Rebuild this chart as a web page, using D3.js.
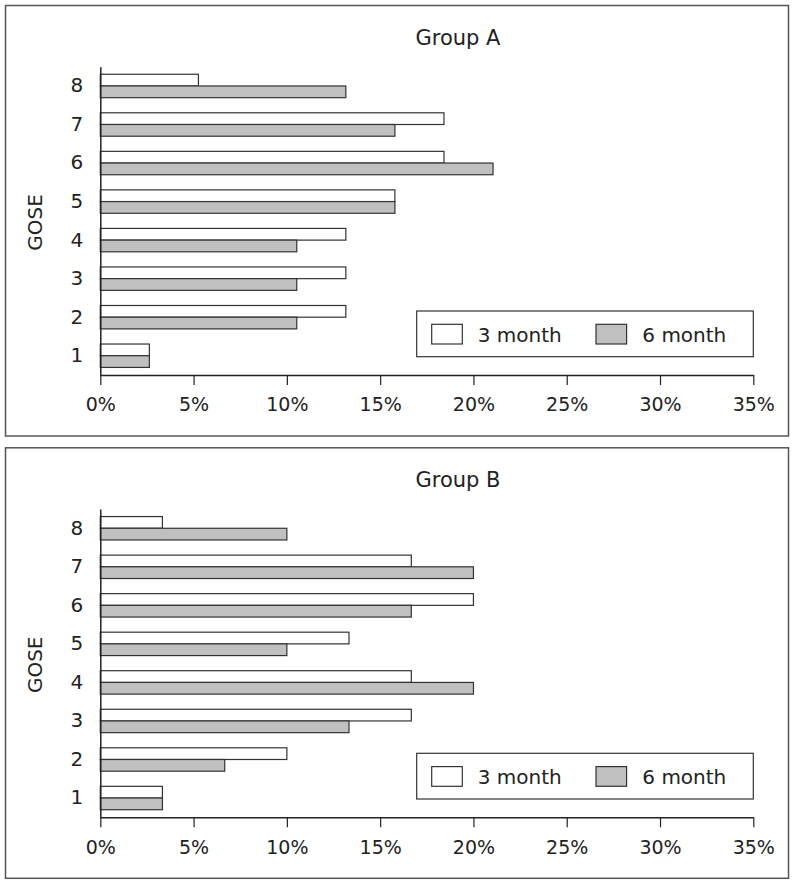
<!DOCTYPE html>
<html><head><meta charset="utf-8">
<script src="https://cdn.jsdelivr.net/npm/d3@7"></script>
<style>body{margin:0;background:#fff}svg{display:block}text{font-family:"DejaVu Sans",sans-serif;fill:#222}</style>
</head><body>
<svg id="c" width="795" height="885"></svg>
<script>
const categories = ["1","2","3","4","5","6","7","8"];
const series = ["3 month","6 month"];
const groups = ["Group A","Group B"];
const groupA3 = [2.63,13.16,13.16,13.16,15.79,18.42,18.42,5.26];
const groupA6 = [2.63,10.53,10.53,10.53,15.79,21.05,15.79,13.16];
const groupB3 = [3.33,10.00,16.67,16.67,13.33,20.00,16.67,3.33];
const groupB6 = [3.33,6.67,13.33,20.00,10.00,16.67,20.00,10.00];
const xTicks = [0,5,10,15,20,25,30,35];
const colors = ["#ffffff","#c0c0c0"];

const svg = d3.select("#c");
const data = [[groupA3,groupA6],[groupB3,groupB6]];

data.forEach((vals,gi)=>{
  const oy = gi*442.3;
  const g = svg.append("g").attr("transform",`translate(0,${oy})`);
  g.append("rect").attr("x",5.5).attr("y",5.5).attr("width",783).attr("height",430.5)
    .attr("fill","none").attr("stroke","#555").attr("stroke-width",1.5);
  const x = d3.scaleLinear().domain([0,35]).range([100.3,753.3]);
  const y = d3.scaleBand().domain(categories.slice().reverse()).range([66.7,375]);
  const bh = 11.7;
  vals.forEach((arr,si)=>{
    g.selectAll(null).data(arr).enter().append("rect")
      .attr("x",x(0))
      .attr("y",(d,i)=>y(categories[i])+y.bandwidth()/2 - bh + si*bh)
      .attr("width",d=>x(d)-x(0))
      .attr("height",bh)
      .attr("fill",colors[si]).attr("stroke","#333").attr("stroke-width",1.2);
  });
  // x axis
  const xa = g.append("g").attr("transform","translate(0,375)")
    .call(d3.axisBottom(x).tickValues(xTicks).tickFormat(d=>d+"%").tickSize(10).tickSizeOuter(0).tickPadding(13));
  xa.select(".domain").attr("stroke","#222").attr("stroke-width",1.5);
  xa.selectAll(".tick line").attr("stroke","#222").attr("stroke-width",1.2);
  xa.selectAll(".tick text").attr("font-size",19).attr("font-family","DejaVu Sans").attr("fill","#222");
  // y axis
  const ya = g.append("g").attr("transform","translate(100.3,0)")
    .call(d3.axisLeft(y).tickSize(0).tickPadding(17));
  ya.select(".domain").attr("stroke","#222").attr("stroke-width",1.5);
  ya.selectAll(".tick text").attr("font-size",20).attr("font-family","DejaVu Sans").attr("fill","#222");
  // title
  g.append("text").attr("x",458).attr("y",45).attr("text-anchor","middle")
    .attr("font-size",21).text(groups[gi]);
  g.append("text").attr("transform","translate(41.7,222.5) rotate(-90)").attr("text-anchor","middle")
    .attr("font-size",20).text("GOSE");
  // legend
  const lg = g.append("g");
  lg.append("rect").attr("x",416.7).attr("y",311).attr("width",336.6).attr("height",45.7)
    .attr("fill","#fff").attr("stroke","#333").attr("stroke-width",1.2);
  const sx = [431.7,596], tx=[477.7,642.3];
  series.forEach((s,si)=>{
    lg.append("rect").attr("x",sx[si]).attr("y",324.3).attr("width",30.6).attr("height",19.7)
      .attr("fill",colors[si]).attr("stroke","#333").attr("stroke-width",1.2);
    lg.append("text").attr("x",tx[si]).attr("y",342).attr("font-size",20).text(s);
  });
});
</script>
</body></html>
